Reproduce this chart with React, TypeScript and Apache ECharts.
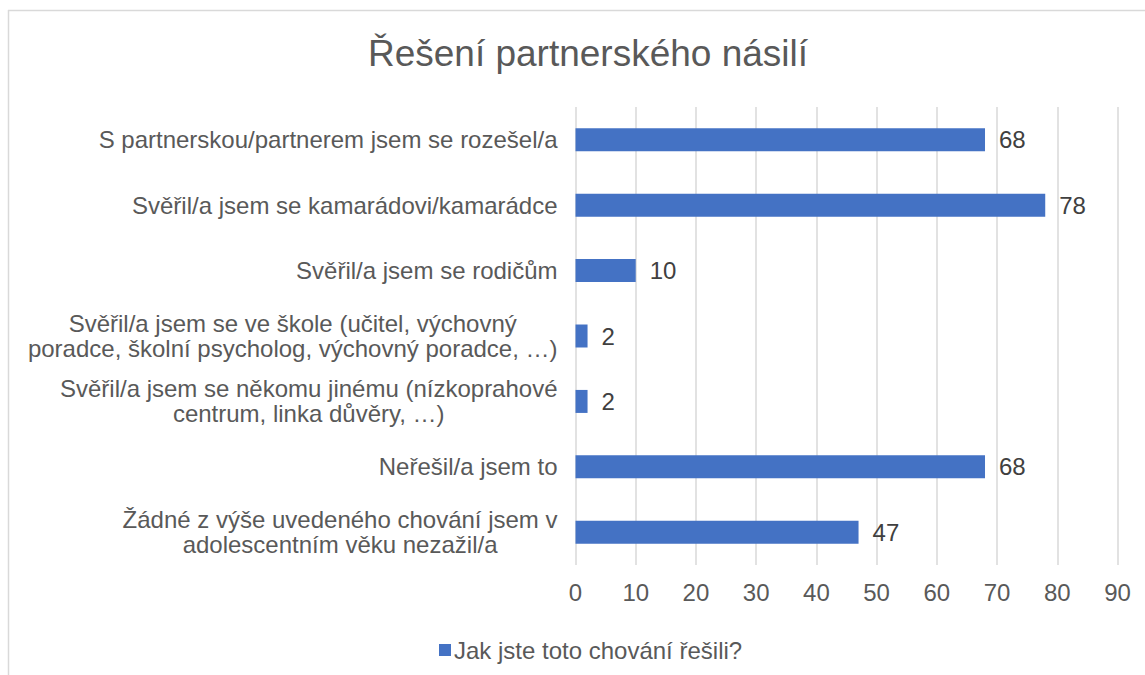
import React, { useEffect, useRef } from "react";
import * as echarts from "echarts";

const titleText = "Řešení partnerského násilí";
const seriesName = "Jak jste toto chování řešili?";
const categories = [
  "S partnerskou/partnerem jsem se rozešel/a",
  "Svěřil/a jsem se kamarádovi/kamarádce",
  "Svěřil/a jsem se rodičům",
  "Svěřil/a jsem se ve škole (učitel, výchovný\nporadce, školní psycholog, výchovný poradce, …)",
  "Svěřil/a jsem se někomu jinému (nízkoprahové\ncentrum, linka důvěry, …)",
  "Neřešil/a jsem to",
  "Žádné z výše uvedeného chování jsem v\nadolescentním věku nezažil/a",
];
const values = [68, 78, 10, 2, 2, 68, 47];
const axisMin = 0;
const axisMax = 90;
const axisStep = 10;

const FONT = "'Liberation Sans', Arial, sans-serif";

export default function App() {
  const ref = useRef<HTMLDivElement>(null);
  useEffect(() => {
    if (!ref.current) return;
    const chart = echarts.init(ref.current, null, { renderer: "svg" });
    chart.setOption({
      animation: false,
      backgroundColor: "#ffffff",
      textStyle: { fontFamily: FONT },
      title: {
        text: titleText,
        left: 583,
        top: 30,
        textAlign: "center",
        textStyle: { fontFamily: FONT, fontSize: 37, fontWeight: "normal", color: "#595959" },
      },
      legend: {
        left: 434,
        top: 633,
        icon: "rect",
        itemWidth: 12,
        itemHeight: 12,
        itemGap: 10,
        textStyle: { fontFamily: FONT, fontSize: 24, color: "#595959", padding: [0, 0, 0, -2] },
        data: [seriesName],
      },
      grid: { left: 575.5, right: 27.5, top: 107, bottom: 110, containLabel: false },
      xAxis: {
        type: "value",
        min: axisMin,
        max: axisMax,
        interval: axisStep,
        axisLine: { show: false },
        axisTick: { show: false },
        splitLine: { show: true, lineStyle: { color: "#d9d9d9", width: 1.5 } },
        axisLabel: { fontFamily: FONT, fontSize: 24, color: "#595959", margin: 15 },
      },
      yAxis: {
        type: "category",
        inverse: true,
        data: categories,
        axisLine: { show: false },
        axisTick: { show: false },
        axisLabel: {
          margin: 18,
          align: "right",
          formatter: (v: string) => v.split("\n").map((l) => `{c|${l}}`).join("\n"),
          rich: {
            c: { fontFamily: FONT, fontSize: 24, color: "#595959", align: "center", lineHeight: 25 },
          },
        },
      },
      series: [
        {
          name: seriesName,
          type: "bar",
          data: values,
          barWidth: 23,
          itemStyle: { color: "#4472C4" },
          label: {
            show: true,
            position: "right",
            distance: 14,
            fontFamily: FONT,
            fontSize: 24,
            color: "#404040",
          },
        },
      ],
      graphic: [
        { type: "line", shape: { x1: 8.5, y1: 10, x2: 8.5, y2: 675 }, style: { stroke: "#d9d9d9", lineWidth: 1.5 } },
        { type: "line", shape: { x1: 8, y1: 10.5, x2: 1145, y2: 10.5 }, style: { stroke: "#d9d9d9", lineWidth: 1.5 } },
      ],
    });
    return () => chart.dispose();
  }, []);
  return (
    <div
      ref={ref}
      style={{ position: "absolute", left: 0, top: 0, width: 1145, height: 675 }}
    />
  );
}
